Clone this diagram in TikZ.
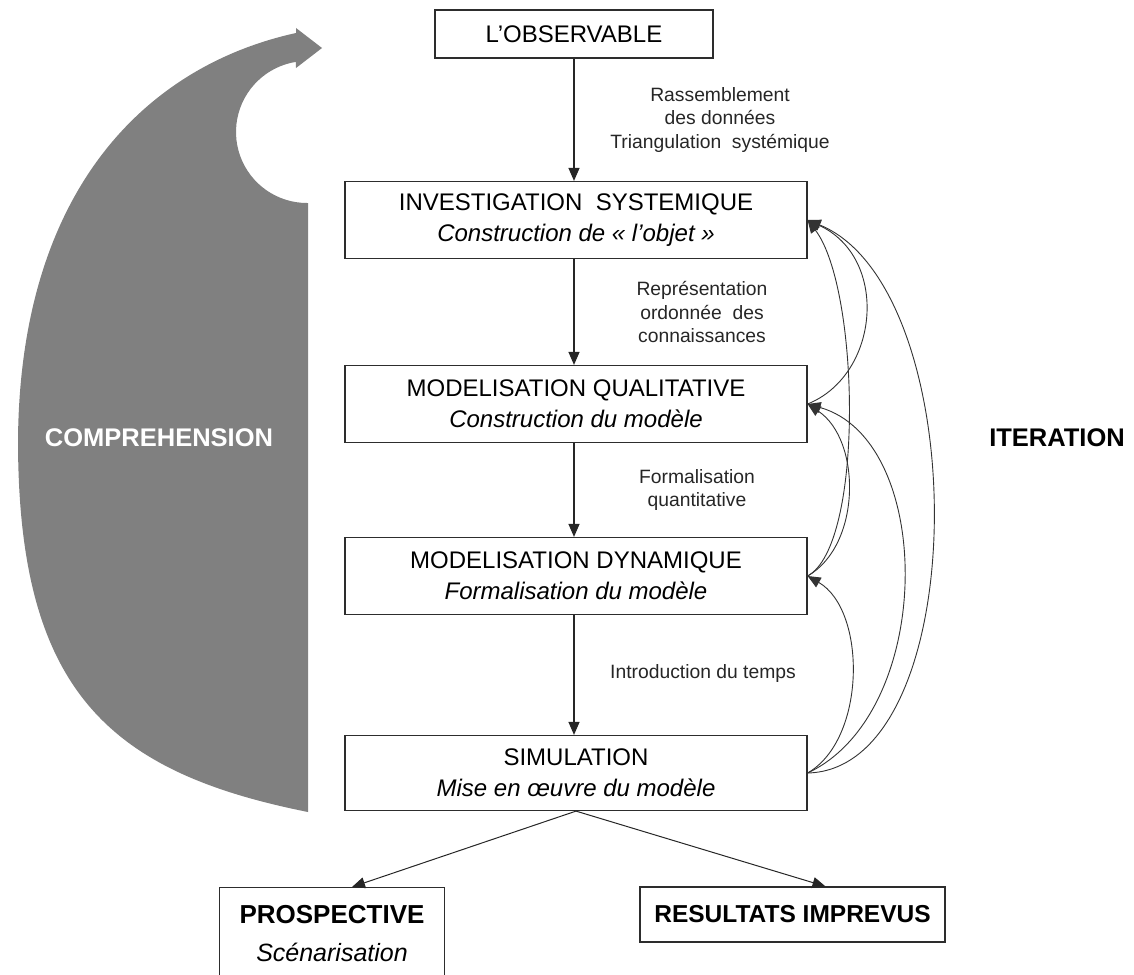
\documentclass[tikz,border=0pt]{standalone}
\usepackage{fontspec}
\setmainfont{Liberation Sans}
\usetikzlibrary{arrows.meta}
\definecolor{shapegray}{RGB}{128,128,128}
\definecolor{boxline}{RGB}{45,45,45}
\begin{document}
\begin{tikzpicture}[x=1pt,y=-1pt,
  box/.style={draw=boxline, line width=1.2pt, fill=white, minimum width=462pt, minimum height=77pt, align=center, inner sep=0pt, font=\fontsize{24}{31}\selectfont},
  lbl/.style={align=center, font=\fontsize{19.3}{23.5}\selectfont, text=black!85},
  side/.style={font=\fontsize{25.5}{30}\selectfont\bfseries},
  arr/.style={line width=1.2pt, draw=black!85, -{Triangle[length=13pt,width=11pt]}},
  itr/.style={line width=0.9pt, draw=black!80, -{Triangle[length=13pt,width=11pt]}},
]
\useasboundingbox (0,0) rectangle (1134,974);

% big curved grey arrow
\fill[shapegray] (322,48) -- (296,28) -- (296,33)
  .. controls (146,66) and (20,190) .. (18,440)
  .. controls (18,690) and (108,772) .. (308,812)
  -- (308,203)
  -- plot[domain=90:261, samples=40] ({307+71*cos(\x)},{132+71*sin(\x)})
  -- (296,68) -- cycle;
\node[side, text=white] (comp) at (159,438) {COMPREHENSION};
\node[side, text=black] (iter) at (1057,438) {ITERATION};

% boxes
\node[box, minimum width=278pt, minimum height=48pt] (obs) at (574,34) {L’OBSERVABLE};
\node[box] (inv) at (576,220) {INVESTIGATION\ \ SYSTEMIQUE\\\textit{Construction de « l’objet »}};
\node[box] (qual) at (576,404) {MODELISATION QUALITATIVE\\\textit{Construction du modèle}};
\node[box] (dyn) at (576,576) {MODELISATION DYNAMIQUE\\\textit{Formalisation du modèle}};
\node[box, minimum height=75pt] (sim) at (576,773) {SIMULATION\\\textit{Mise en œuvre du modèle}};
\node[box, minimum width=225pt, minimum height=100pt, anchor=north] (pros) at (332,887) {};
\node[font=\fontsize{26}{30}\selectfont\bfseries, anchor=base, inner sep=0pt] (prostitle) at (332,923) {PROSPECTIVE};
\node[font=\fontsize{25}{30}\selectfont\itshape, anchor=base, inner sep=0pt] (prossub) at (332,961) {Scénarisation};
\node[box, minimum width=305pt, minimum height=55pt, font=\fontsize{24.5}{28}\selectfont\bfseries] (res) at (792.5,914.5) {RESULTATS IMPREVUS};

% labels
\node[lbl] (l1) at (720,120) {Rassemblement\\des données\\Triangulation\ \ systémique};
\node[lbl] (l2) at (702,312) {Représentation\\ordonnée\ \ des\\connaissances};
\node[lbl] (l3) at (697,490) {Formalisation\\quantitative};
\node[lbl] (l4) at (703,674) {Introduction du temps};

% vertical arrows
\draw[arr] (obs.south) -- (obs.south |- inv.north);
\draw[arr] (obs.south |- inv.south) -- (obs.south |- qual.north);
\draw[arr] (obs.south |- qual.south) -- (obs.south |- dyn.north);
\draw[arr] (obs.south |- dyn.south) -- (obs.south |- sim.north);

% diverging arrows
\draw[line width=1pt, draw=black!85, -{Triangle[length=13pt,width=11pt]}] (sim.south) -- ([xshift=20pt]pros.north);
\draw[line width=1pt, draw=black!85, -{Triangle[length=13pt,width=11pt]}] (sim.south) -- ([xshift=33pt]res.north);

% iteration curves
\draw[itr] (qual.east) .. controls +(72,-29) and +(82,38) .. (inv.east);
\draw[itr] (dyn.east) .. controls +(57,-31) and +(52,68) .. (inv.east);
\draw[itr] (sim.east) .. controls +(167,-4) and +(167,68) .. (inv.east);
\draw[itr] (dyn.east) .. controls +(54,-31) and +(54,36) .. (qual.east);
\draw[itr] (sim.east) .. controls +(128,-60) and +(128,36) .. (qual.east);
\draw[itr] (sim.east) .. controls +(59,-34) and +(59,34) .. (dyn.east);
\end{tikzpicture}
\end{document}
